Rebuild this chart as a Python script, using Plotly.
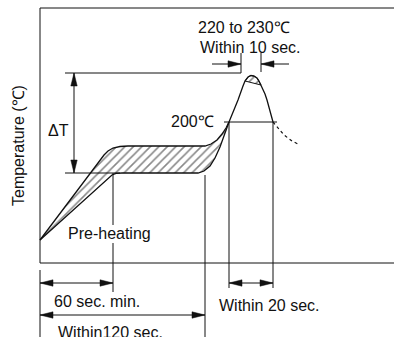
import plotly.graph_objects as go

# ---- schematic diagram data (diagram units: x = time axis, y = temperature axis, y grows downward) ----
# soak band (pre-heating zone), upper and lower boundary curves
band_upper_x = [40, 100, 104, 108, 113, 120, 128, 205, 211, 217, 222, 226, 229]
band_upper_y = [240, 160, 155, 151, 148, 146.5, 146, 146, 144, 140, 134, 128, 122]
band_lower_x = [40, 108, 112, 116, 122, 198, 204, 210, 215, 220, 225, 229]
band_lower_y = [240, 178, 175, 173.3, 173, 173, 171, 166, 158, 147, 134, 122]

# reflow peak curve
peak_x = [229, 234, 238, 243, 245, 248, 251, 254, 257, 259, 261, 263, 265, 267, 269, 271, 273]
peak_y = [122, 110, 100, 86, 81, 77, 75.5, 76, 78, 81, 85, 89, 94, 100, 108, 115, 122]
cap_level = 85  # 220-230 C zone (hatched cap)

# cooling (dashed)
cool_x = [273, 278, 284, 292, 300]
cool_y = [122, 128, 135, 141, 145]

# frame / reference lines  (x0, y0, x1, y1)
frame_lines = [
    (40, 8, 394, 8), (40, 8, 40, 263), (40, 263, 394, 263),
    (40, 270, 40, 337),
    (65, 73, 241, 73), (241, 53, 241, 73), (261, 53, 261, 72),
    (65, 173, 120, 173),
    (113, 173, 113, 225), (113, 243, 113, 292),
    (205, 175, 205, 337),
    (229, 122, 229, 288), (273, 122, 273, 288),
    (224, 122, 277, 122),
]

# dimension arrows: (x0, y0, x1, y1, head_at_start, head_at_end)
dim_arrows = [
    (74, 73, 74, 173, True, True),       # delta T
    (40, 283, 113, 283, True, True),     # 60 sec. min.
    (40, 315, 205, 315, True, True),     # Within120 sec.
    (229, 283, 273, 283, True, True),    # Within 20 sec.
    (212, 64, 241, 64, False, True),     # Within 10 sec. (left)
    (289, 64, 261, 64, False, True),     # Within 10 sec. (right)
]

# labels: (text, x, y, xanchor)
labels = [
    ("220 to 230℃", 244, 27, "center"),
    ("Within 10 sec.", 250, 47, "center"),
    ("200℃", 216, 121, "right"),
    ("ΔT", 58, 130, "center"),
    ("Pre-heating", 109, 233, "center"),
    ("60 sec. min.", 97, 301, "center"),
    ("Within 20 sec.", 269, 305, "center"),
    ("Within120 sec.", 110, 332, "center"),
]
y_title = "Temperature (℃)"

LINE = "#111111"
FONT = dict(family="Liberation Sans, Arial, sans-serif", size=16, color="#111111")
HATCH = dict(shape="/", size=6, solidity=0.26, fgcolor="#111", bgcolor="white")

fig = go.Figure()

# hatched band
fig.add_trace(go.Scatter(
    x=band_upper_x + band_lower_x[::-1], y=band_upper_y + band_lower_y[::-1],
    mode="lines", fill="toself", line=dict(width=0, color="rgba(0,0,0,0)"),
    fillcolor="white", fillpattern=HATCH,
    hoverinfo="skip", showlegend=False))
for xs, ys in [(band_upper_x, band_upper_y), (band_lower_x, band_lower_y)]:
    fig.add_trace(go.Scatter(x=xs, y=ys, mode="lines", line=dict(color=LINE, width=1.3),
                             hoverinfo="skip", showlegend=False))

# hatched cap of the peak
cap_x = [x for x, y in zip(peak_x, peak_y) if y <= cap_level]
cap_y = [y for y in peak_y if y <= cap_level]
fig.add_trace(go.Scatter(
    x=cap_x + [cap_x[0]], y=cap_y + [cap_y[0]], mode="lines", fill="toself",
    line=dict(color=LINE, width=1), fillcolor="white", fillpattern=HATCH,
    hoverinfo="skip", showlegend=False))

fig.add_trace(go.Scatter(x=peak_x, y=peak_y, mode="lines", line=dict(color=LINE, width=1.3),
                         hoverinfo="skip", showlegend=False))
fig.add_trace(go.Scatter(x=cool_x, y=cool_y, mode="lines",
                         line=dict(color=LINE, width=1.2, dash="3px,3px"),
                         hoverinfo="skip", showlegend=False))

# straight lines
lx, ly = [], []
for x0, y0, x1, y1 in frame_lines:
    lx += [x0, x1, None]
    ly += [y0, y1, None]
fig.add_trace(go.Scatter(x=lx, y=ly, mode="lines", line=dict(color=LINE, width=1),
                         hoverinfo="skip", showlegend=False))

# dimension arrows with filled heads
HEAD_L, HEAD_W = 13, 3.2
ax_, ay_ = [], []
hx, hy = [], []
for x0, y0, x1, y1, hs, he in dim_arrows:
    ax_ += [x0, x1, None]
    ay_ += [y0, y1, None]
    dx, dy = x1 - x0, y1 - y0
    n = (dx * dx + dy * dy) ** 0.5
    ux, uy = dx / n, dy / n
    px, py = -uy, ux
    heads = []
    if he:
        heads.append((x1, y1, ux, uy))
    if hs:
        heads.append((x0, y0, -ux, -uy))
    for tx, ty, vx, vy in heads:
        bx, by = tx - vx * HEAD_L, ty - vy * HEAD_L
        hx += [tx, bx + px * HEAD_W, bx - px * HEAD_W, tx, None]
        hy += [ty, by + py * HEAD_W, by - py * HEAD_W, ty, None]
fig.add_trace(go.Scatter(x=ax_, y=ay_, mode="lines", line=dict(color=LINE, width=1),
                         hoverinfo="skip", showlegend=False))
fig.add_trace(go.Scatter(x=hx, y=hy, mode="lines", fill="toself", fillcolor=LINE,
                         line=dict(color=LINE, width=0.5), hoverinfo="skip", showlegend=False))

for text, x, y, xa in labels:
    fig.add_annotation(x=x, y=y, text=text, showarrow=False, xanchor=xa, yanchor="middle",
                       font=FONT, xref="x", yref="y")
fig.add_annotation(x=18, y=146, text=y_title, showarrow=False, textangle=-90,
                   xanchor="center", yanchor="middle", font=FONT, xref="x", yref="y")

fig.update_layout(
    width=394, height=337, margin=dict(l=0, r=0, t=0, b=0),
    paper_bgcolor="white", plot_bgcolor="white",
    xaxis=dict(range=[0, 394], visible=False, fixedrange=True),
    yaxis=dict(range=[337, 0], visible=False, fixedrange=True),
    showlegend=False,
)

fig.write_html("out.html", post_script="document.body.style.margin='0';",
               config={"displayModeBar": False})
